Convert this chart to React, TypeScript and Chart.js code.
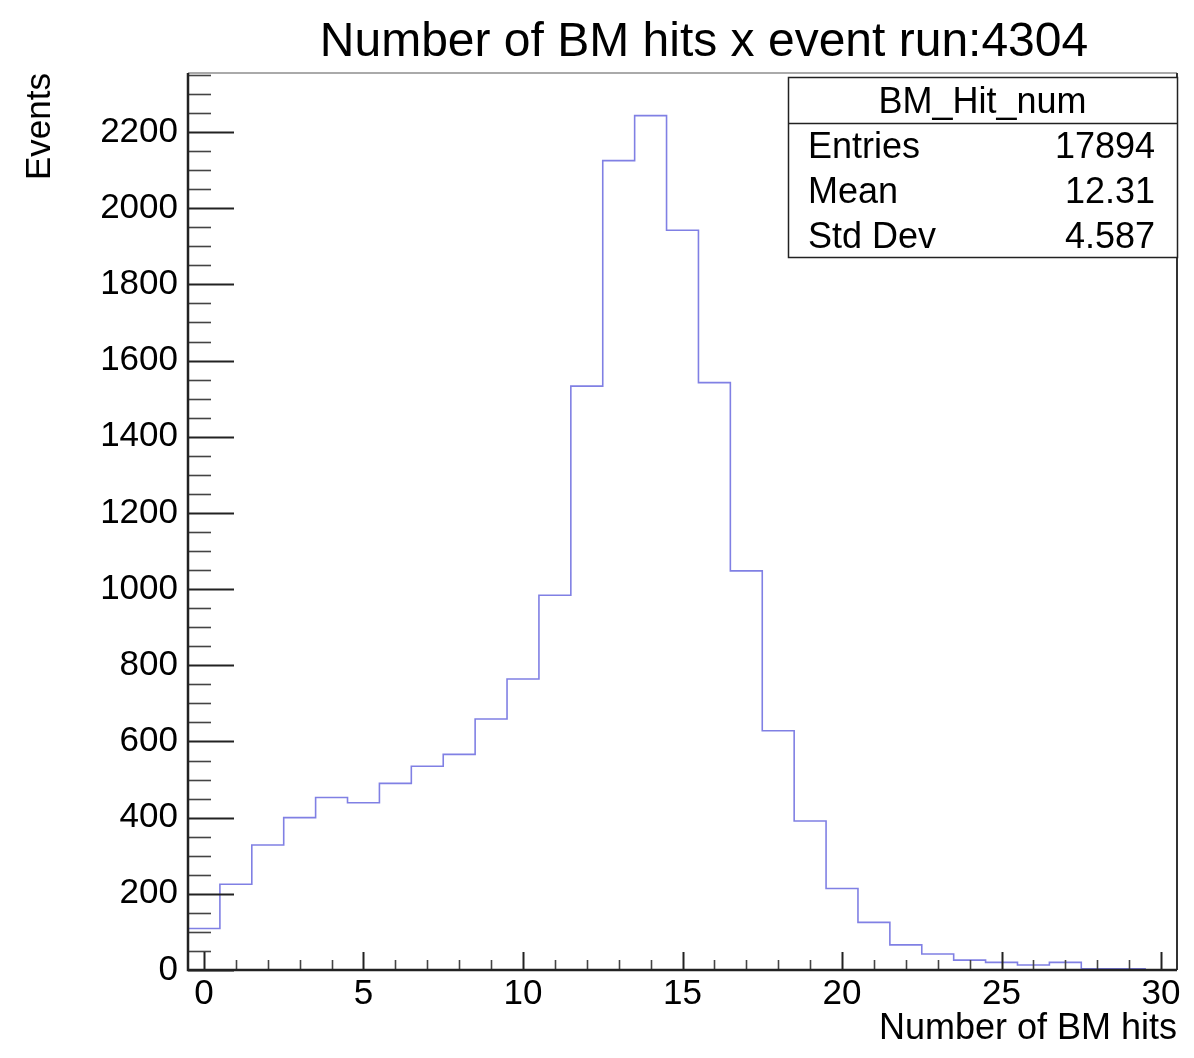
import React, { useEffect, useRef } from 'react';
import { Chart, registerables } from 'chart.js';

Chart.register(...registerables);

const FONT = "'Liberation Sans', Arial, Helvetica, sans-serif";

// ---- data ----
const chartTitle = 'Number of BM hits x event run:4304';
const xAxisTitle = 'Number of BM hits';
const yAxisTitle = 'Events';

const binCenters = [0, 1, 2, 3, 4, 5, 6, 7, 8, 9, 10, 11, 12, 13, 14, 15, 16, 17, 18, 19, 20, 21, 22, 23, 24, 25, 26, 27, 28, 29, 30];
const binCounts = [109, 225, 328, 400, 453, 439, 490, 535, 566, 659, 764, 984, 1533, 2125, 2243, 1942, 1542, 1048, 628, 391, 214, 125, 66, 42, 26, 20, 13, 20, 3, 3, 0];

const statsTitle = 'BM_Hit_num';
const statsLabels = ['Entries', 'Mean', 'Std Dev'];
const statsValues = ['17894', '12.31', '4.587'];

const xRange = [-0.5, 30.5];
const yRange = [0, 2355];
const xMajorStep = 5;
const xMinorStep = 1;
const yMajorStep = 200;
const yMinorStep = 50;

const rootPlugin = {
  id: 'rootStyle',
  afterDatasetsDraw(chart: any) {
    const { ctx, chartArea: a, scales } = chart;
    const xs = scales.x;
    const ys = scales.y;
    ctx.save();
    // y ticks (inside, from left axis)
    for (let v = 0; v <= yRange[1]; v += yMinorStep) {
      const py = Math.round(ys.getPixelForValue(v)) + 0.5;
      const major = v % yMajorStep === 0;
      ctx.strokeStyle = major ? '#222' : '#444';
      ctx.lineWidth = major ? 2 : 1.6;
      ctx.beginPath();
      ctx.moveTo(a.left, py);
      ctx.lineTo(a.left + (major ? 46 : 23), py);
      ctx.stroke();
    }
    // x ticks (inside, from bottom axis)
    for (let v = 0; v <= 30; v += xMinorStep) {
      const px = Math.round(xs.getPixelForValue(v)) + 0.5;
      const major = v % xMajorStep === 0;
      ctx.strokeStyle = major ? '#222' : '#444';
      ctx.lineWidth = major ? 2 : 1.6;
      ctx.beginPath();
      ctx.moveTo(px, a.bottom);
      ctx.lineTo(px, a.bottom - (major ? 18 : 10));
      ctx.stroke();
    }
    // frame
    ctx.lineWidth = 2;
    ctx.strokeStyle = '#aaa';
    ctx.beginPath();
    ctx.moveTo(a.left, a.top);
    ctx.lineTo(a.right, a.top);
    ctx.stroke();
    ctx.strokeStyle = '#333';
    ctx.beginPath();
    ctx.moveTo(a.right, a.top);
    ctx.lineTo(a.right, a.bottom);
    ctx.stroke();
    ctx.strokeStyle = '#222';
    ctx.lineWidth = 2.5;
    ctx.beginPath();
    ctx.moveTo(a.left, a.top);
    ctx.lineTo(a.left, a.bottom);
    ctx.lineTo(a.right, a.bottom);
    ctx.stroke();
    ctx.restore();
  },
  afterDraw(chart: any) {
    const { ctx, chartArea: a } = chart;
    ctx.save();
    // title
    ctx.fillStyle = '#000';
    ctx.font = `48px ${FONT}`;
    ctx.textAlign = 'center';
    ctx.textBaseline = 'alphabetic';
    ctx.fillText(chartTitle, 704, 56);

    // stats box
    const bx0 = 788;
    const bx1 = a.right;
    const by0 = 77;
    const by1 = 257;
    const hy = 123;
    ctx.fillStyle = '#fff';
    ctx.fillRect(bx0, by0, bx1 - bx0, by1 - by0);
    ctx.strokeStyle = '#222';
    ctx.lineWidth = 1.5;
    ctx.strokeRect(bx0 + 0.5, by0 + 0.5, bx1 - bx0, by1 - by0);
    ctx.beginPath();
    ctx.moveTo(bx0, hy + 0.5);
    ctx.lineTo(bx1, hy + 0.5);
    ctx.stroke();
    ctx.fillStyle = '#000';
    ctx.font = `36px ${FONT}`;
    ctx.textAlign = 'center';
    ctx.fillText(statsTitle, (bx0 + bx1) / 2, 113);
    const rowH = (by1 - hy) / statsLabels.length;
    statsLabels.forEach((lab, i) => {
      const base = hy + rowH * i + rowH / 2 + 13;
      ctx.textAlign = 'left';
      ctx.fillText(lab, 808, base);
      ctx.textAlign = 'right';
      ctx.fillText(statsValues[i], 1155, base);
    });
    ctx.restore();
  },
};

export default function App() {
  const ref = useRef<HTMLCanvasElement | null>(null);
  useEffect(() => {
    if (!ref.current) return;
    const points = binCenters.map((c, i) => ({ x: c - 0.5, y: binCounts[i] }));
    points.push({ x: binCenters[binCenters.length - 1] + 0.5, y: binCounts[binCounts.length - 1] });
    const chart = new Chart(ref.current, {
      type: 'line',
      data: {
        datasets: [
          {
            label: statsTitle,
            data: points,
            stepped: 'before',
            borderColor: '#8080e4',
            borderWidth: 1.6,
            pointRadius: 0,
            fill: false,
          },
        ],
      },
      options: {
        responsive: false,
        animation: false,
        devicePixelRatio: 1,
        layout: { padding: { left: 0, top: 73, right: 17, bottom: 0 } },
        plugins: {
          legend: { display: false },
          tooltip: { enabled: false },
          title: { display: false },
        },
        scales: {
          x: {
            type: 'linear',
            min: xRange[0],
            max: xRange[1],
            grid: { display: false, drawTicks: false },
            border: { display: false },
            ticks: {
              stepSize: xMajorStep,
              includeBounds: false,
              padding: 3,
              color: '#000',
              font: { family: FONT, size: 35 },
              maxRotation: 0,
              autoSkip: false,
              callback: (v: any) => String(v),
            },
            title: {
              display: true,
              text: xAxisTitle,
              align: 'end',
              color: '#000',
              font: { family: FONT, size: 36 },
              padding: { top: 0, bottom: 7 },
            },
            afterFit(scale: any) {
              scale.height = 88;
            },
          },
          y: {
            type: 'linear',
            min: yRange[0],
            max: yRange[1],
            grid: { display: false, drawTicks: false },
            border: { display: false },
            ticks: {
              stepSize: yMajorStep,
              includeBounds: false,
              padding: 10,
              color: '#000',
              font: { family: FONT, size: 35 },
              autoSkip: false,
              callback: (v: any) => String(v),
            },
            title: {
              display: true,
              text: yAxisTitle,
              align: 'end',
              color: '#000',
              font: { family: FONT, size: 35 },
              padding: { top: 19, bottom: 0 },
            },
            afterFit(scale: any) {
              scale.width = 188;
            },
          },
        },
      },
      plugins: [rootPlugin],
    } as any);
    return () => chart.destroy();
  }, []);
  return (
    <div style={{ position: 'fixed', left: 0, top: 0, width: 1194, height: 1058, background: '#fff' }}>
      <canvas ref={ref} width={1194} height={1058} style={{ display: 'block' }} />
    </div>
  );
}
